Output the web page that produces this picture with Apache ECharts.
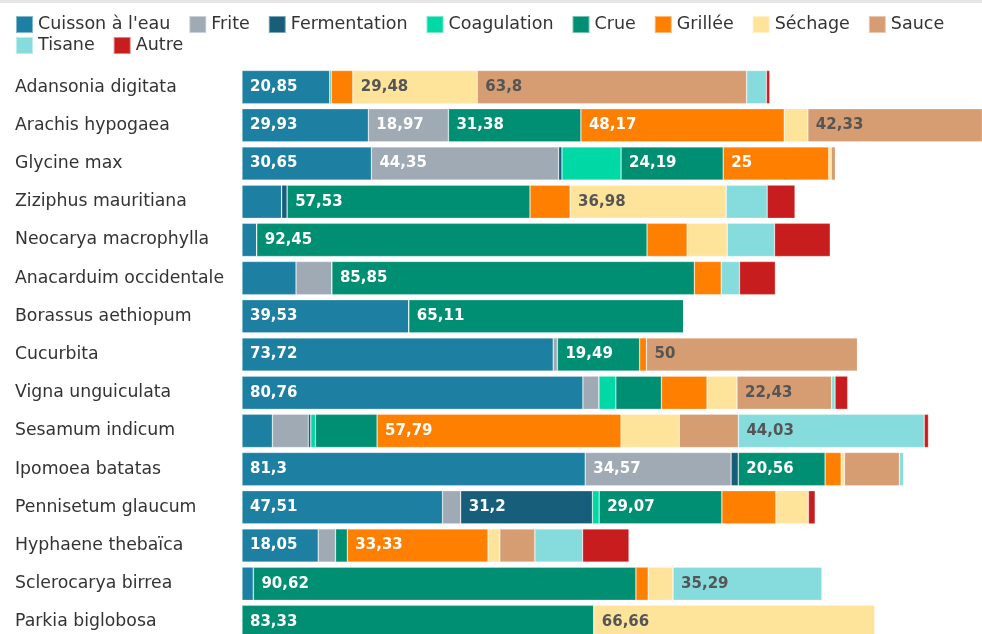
<!DOCTYPE html>
<html>
<head>
<meta charset="utf-8">
<script src="https://cdn.jsdelivr.net/npm/echarts@6/dist/echarts.min.js"></script>
<style>
  html, body { margin: 0; padding: 0; background: #fff; }
  #chart { width: 982px; height: 634px; }
</style>
</head>
<body>
<div id="chart"></div>
<script>
// catégories (de haut en bas)
var plantes = ['Adansonia digitata', 'Arachis hypogaea', 'Glycine max', 'Ziziphus mauritiana',
  'Neocarya macrophylla', 'Anacarduim occidentale', 'Borassus aethiopum', 'Cucurbita',
  'Vigna unguiculata', 'Sesamum indicum', 'Ipomoea batatas', 'Pennisetum glaucum',
  'Hyphaene thebaïca', 'Sclerocarya birrea', 'Parkia biglobosa']

var cuisson = [20.85, 29.93, 30.65, 9.4, 3.5, 12.8, 39.53, 73.72, 80.76, 7.2, 81.3, 47.51, 18.05, 2.7, 0]
var frite = [0, 18.97, 44.35, 0, 0, 8.5, 0, 1.0, 3.8, 8.5, 34.57, 4.3, 4.1, 0, 0]
var fermentation = [0, 0, 0.8, 1.3, 0, 0, 0, 0, 0, 0.6, 1.7, 31.2, 0, 0, 0]
var coagulation = [0, 0, 14.0, 0, 0, 0, 0, 0, 4.0, 1.1, 0, 1.6, 0, 0, 0]
var crue = [0.3, 31.38, 24.19, 57.53, 92.45, 85.85, 65.11, 19.49, 10.8, 14.6, 20.56, 29.07, 2.8, 90.62, 83.33]
var grillee = [5.1, 48.17, 25, 9.5, 9.5, 6.4, 0, 1.6, 10.8, 57.79, 3.8, 12.8, 33.33, 2.9, 0]
var sechage = [29.48, 5.6, 0.6, 36.98, 9.5, 0, 0, 0, 7.1, 13.8, 0.8, 7.7, 2.8, 5.9, 66.66]
var sauce = [63.8, 42.33, 1.0, 0, 0, 0, 0, 50, 22.43, 14.0, 13.0, 0, 8.3, 0, 0]
var tisane = [4.7, 0, 0, 9.7, 11.2, 4.3, 0, 0, 0.8, 44.03, 1.0, 0, 11.3, 35.29, 0]
var autre = [0.8, 0, 0, 6.6, 13.2, 8.5, 0, 0, 3.0, 1.0, 0, 1.6, 11, 0, 0]

var modes = [
  { name: "Cuisson à l'eau", data: cuisson, color: '#1d7fa1', dark: false },
  { name: 'Frite', data: frite, color: '#9faab5', dark: false },
  { name: 'Fermentation', data: fermentation, color: '#165e7a', dark: false },
  { name: 'Coagulation', data: coagulation, color: '#00d8a6', dark: false },
  { name: 'Crue', data: crue, color: '#008f72', dark: false },
  { name: 'Grillée', data: grillee, color: '#ff7f00', dark: false },
  { name: 'Séchage', data: sechage, color: '#fee39b', dark: true },
  { name: 'Sauce', data: sauce, color: '#d69c72', dark: true },
  { name: 'Tisane', data: tisane, color: '#86dcdd', dark: true },
  { name: 'Autre', data: autre, color: '#c81d1f', dark: false }
]
var noms = modes.map(function (m) { return m.name })

var legendStyle = {
  left: 10,
  icon: 'rect',
  itemWidth: 17,
  itemHeight: 17,
  itemGap: 18,
  textStyle: { fontFamily: 'DejaVu Sans', fontSize: 17.5, color: '#333' }
}

var chart = echarts.init(document.getElementById('chart'))

chart.setOption({
  animation: false,
  textStyle: { fontFamily: 'DejaVu Sans' },
  graphic: [{
    type: 'rect',
    shape: { x: 0, y: 0, width: 982, height: 3 },
    style: { fill: '#e6e6e6' }
  }],
  legend: [
    Object.assign({ top: 10, data: noms.slice(0, 8) }, legendStyle),
    Object.assign({ top: 31, data: noms.slice(8) }, legendStyle)
  ],
  grid: {
    left: 242,
    right: 0,
    top: 68,
    height: 573,
    outerBoundsMode: 'none'
  },
  xAxis: {
    type: 'value',
    min: 0,
    max: 175.3,
    show: false
  },
  yAxis: {
    type: 'category',
    data: plantes,
    inverse: true,
    axisLine: { show: false },
    axisTick: { show: false },
    axisLabel: {
      align: 'left',
      margin: 227,
      fontSize: 17.3,
      color: '#333'
    }
  },
  series: modes.map(function (m) {
    return {
      name: m.name,
      type: 'bar',
      stack: 'total',
      data: m.data,
      barCategoryGap: '13%',
      itemStyle: {
        color: m.color,
        borderColor: 'rgba(255,255,255,0.45)',
        borderWidth: 0.6
      },
      label: {
        show: true,
        position: 'insideLeft',
        distance: 8,
        fontSize: 15,
        fontWeight: 'bold',
        color: m.dark ? '#555' : '#fff',
        formatter: function (p) {
          return p.value >= 15 ? String(p.value).replace('.', ',') : ''
        }
      }
    }
  })
})
</script>
</body>
</html>
